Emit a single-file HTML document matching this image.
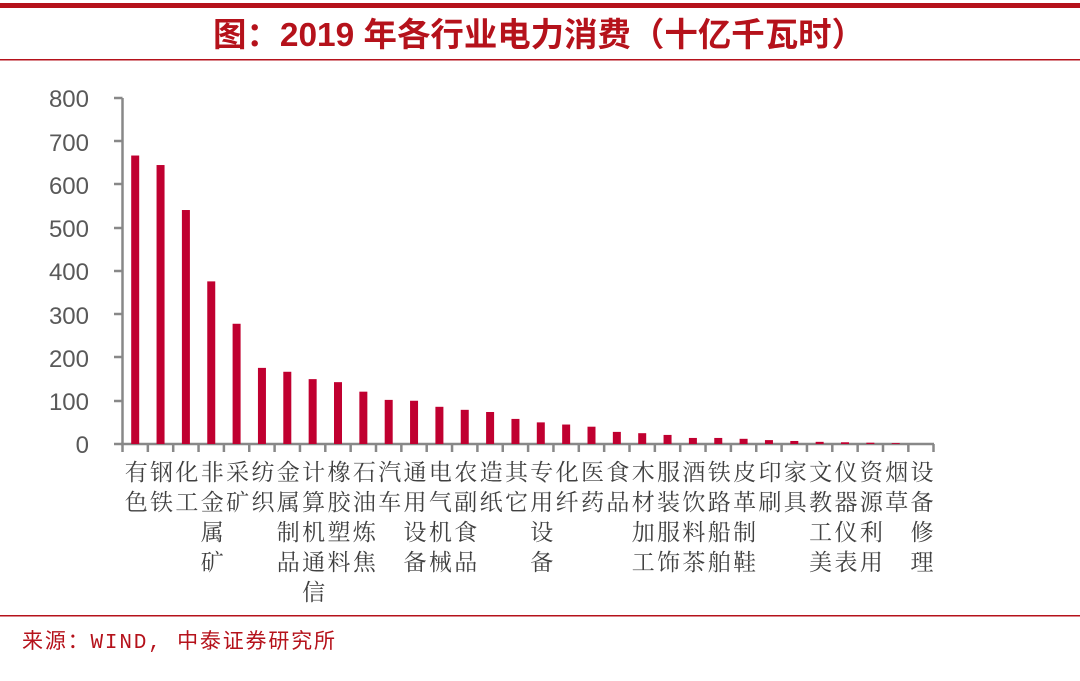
<!DOCTYPE html>
<html><head><meta charset="utf-8"><style>
body{margin:0;background:#fff;width:1080px;height:676px;overflow:hidden}
</style></head><body>
<svg width="1080" height="676" xmlns="http://www.w3.org/2000/svg">
<rect x="0" y="3" width="1080" height="5" fill="#b5121b"/>
<text x="539" y="46" text-anchor="middle" font-family="Liberation Sans, Noto Sans CJK SC, sans-serif" font-size="33" font-weight="bold" fill="#b5121b" textLength="652" lengthAdjust="spacingAndGlyphs">图：2019 年各行业电力消费（十亿千瓦时）</text>
<rect x="0" y="59" width="1080" height="1.5" fill="#b5121b"/>
<rect x="0" y="615" width="1080" height="1.5" fill="#b5121b"/>
<text x="22" y="648" font-family="Liberation Mono, Noto Sans CJK SC, monospace" font-size="21" fill="#b5121b" textLength="313" lengthAdjust="spacing">来源：WIND, 中泰证券研究所</text>
<g font-family="Liberation Sans, sans-serif" font-size="24" fill="#595959" text-anchor="end">
<text x="89" y="107">800</text><text x="89" y="151">700</text><text x="89" y="194">600</text><text x="89" y="237">500</text><text x="89" y="280">400</text><text x="89" y="324">300</text><text x="89" y="367">200</text><text x="89" y="410">100</text><text x="89" y="453">0</text>
</g>
<g stroke="#888" stroke-width="2.5" fill="none">
<line x1="122.5" y1="98" x2="122.5" y2="445"/>
<line x1="121" y1="444" x2="934" y2="444"/>
<path d="M114 98H122.5M114 141H122.5M114 184H122.5M114 228H122.5M114 271H122.5M114 314H122.5M114 357H122.5M114 401H122.5M114 444H122.5"/>
<path id="ticks" d=""/>
</g>
<g id="bars"></g>
<g id="labs" font-family="Liberation Serif, Noto Serif CJK SC, serif" font-size="23" fill="#404040" text-anchor="middle"></g>
</svg>
<script>
var v=[667,645,541,376,278,176,167,150,143,121,102,100,86,79,74,58,50,45,40,28,25,21,14,14,12,9,7,5,4,3,2,0];
var l=["有色","钢铁","化工","非金属矿","采矿","纺织","金属制品","计算机通信","橡胶塑料","石油炼焦","汽车","通用设备","电气机械","农副食品","造纸","其它","专用设备","化纤","医药","食品","木材加工","服装服饰","酒饮料茶","铁路船舶","皮革制鞋","印刷","家具","文教工美","仪器仪表","资源利用","烟草","设备修理"];
var ns="http://www.w3.org/2000/svg",b=document.getElementById("bars"),L=document.getElementById("labs"),d="";
for(var i=0;i<32;i++){var x0=122.5+i*25.35;d+="M"+x0+" 444V452";var c=x0+12.7;
if(v[i]>0){var h=v[i]*0.4325;var r=document.createElementNS(ns,"rect");r.setAttribute("x",c-4);r.setAttribute("y",444-h);r.setAttribute("width",8);r.setAttribute("height",h);r.setAttribute("fill","#c00030");b.appendChild(r);}
for(var j=0;j<l[i].length;j++){var t=document.createElementNS(ns,"text");t.setAttribute("x",c+1);t.setAttribute("y",480+j*30);t.textContent=l[i][j];L.appendChild(t);}}
d+="M933.5 444V452";document.getElementById("ticks").setAttribute("d",d);
</script>
</body></html>
